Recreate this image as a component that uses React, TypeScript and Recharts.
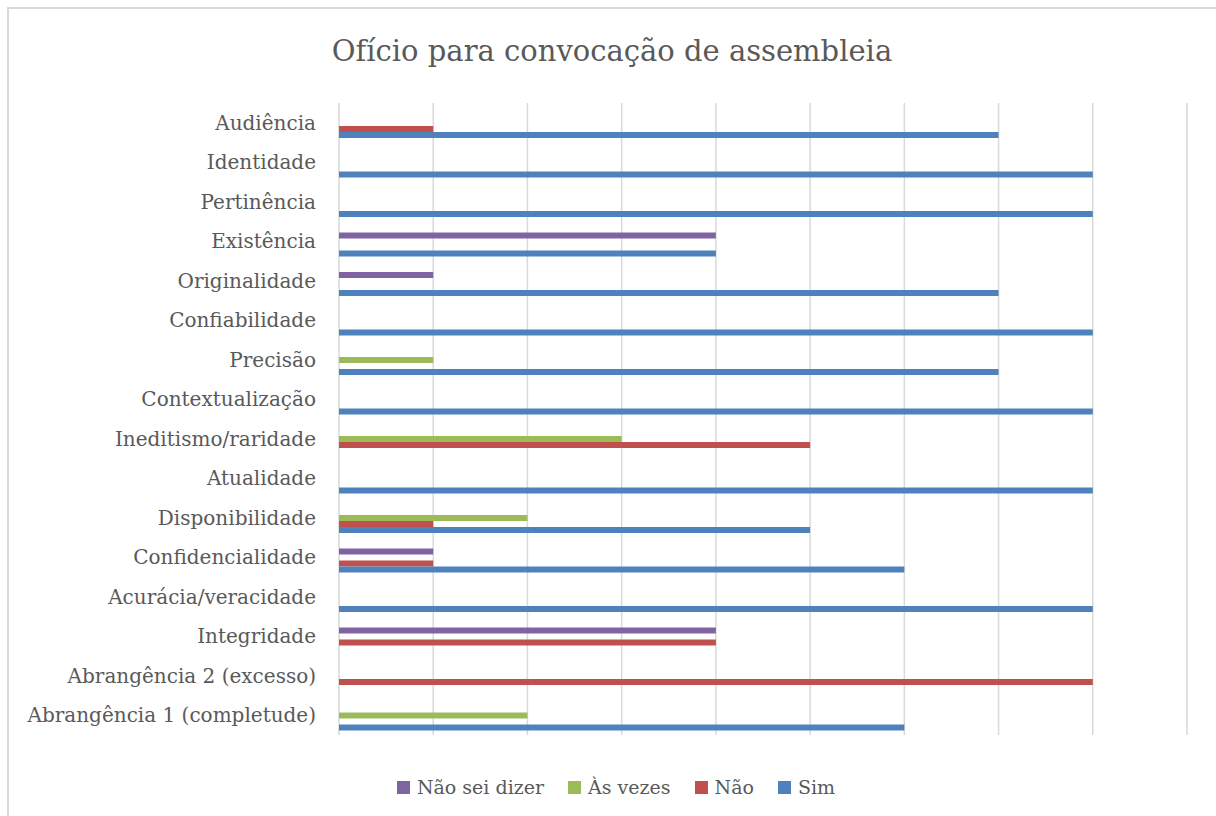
import React from "react"
import { BarChart, Bar, XAxis, YAxis, CartesianGrid } from "recharts"

const categories = [
  "Audiência",
  "Identidade",
  "Pertinência",
  "Existência",
  "Originalidade",
  "Confiabilidade",
  "Precisão",
  "Contextualização",
  "Ineditismo/raridade",
  "Atualidade",
  "Disponibilidade",
  "Confidencialidade",
  "Acurácia/veracidade",
  "Integridade",
  "Abrangência 2 (excesso)",
  "Abrangência 1 (completude)",
]

const naoSeiDizer = [0, 0, 0, 4, 1, 0, 0, 0, 0, 0, 0, 1, 0, 4, 0, 0]
const asVezes = [0, 0, 0, 0, 0, 0, 1, 0, 3, 0, 2, 0, 0, 0, 0, 2]
const nao = [1, 0, 0, 0, 0, 0, 0, 0, 5, 0, 1, 1, 0, 4, 8, 0]
const sim = [7, 8, 8, 4, 7, 8, 7, 8, 0, 8, 5, 6, 8, 0, 0, 6]

const xTicks = [0, 1, 2, 3, 4, 5, 6, 7, 8, 9]

const SERIES = [
  { key: "naoSeiDizer", name: "Não sei dizer", color: "#8064a2" },
  { key: "asVezes", name: "Às vezes", color: "#9bbb59" },
  { key: "nao", name: "Não", color: "#c0504d" },
  { key: "sim", name: "Sim", color: "#4f81bd" },
]

const data = categories.map((name, i) => ({
  name,
  naoSeiDizer: naoSeiDizer[i],
  asVezes: asVezes[i],
  nao: nao[i],
  sim: sim[i],
}))

const FONT = "'DejaVu Serif', serif"
const TEXT = "#595959"

// excel draws the bar group a bit below the band centre
const ShiftedBar = (props: any) => {
  const { x, y, width, height, fill } = props
  if (!width || width <= 0) return null
  return <rect x={x} y={y + 3} width={width} height={height} fill={fill} />
}

export default function App() {
  return (
    <div style={{ position: "absolute", left: 0, top: 0, width: 1216, height: 816, background: "#fff", overflow: "hidden" }}>
      <div
        style={{
          position: "absolute",
          left: 7,
          top: 7,
          width: 1220,
          height: 820,
          border: "2px solid #d9d9d9",
          boxSizing: "border-box",
        }}
      />
      <div
        style={{
          position: "absolute",
          top: 34,
          left: 0,
          width: 1224,
          textAlign: "center",
          fontFamily: FONT,
          fontSize: 29,
          color: TEXT,
        }}
      >
        Ofício para convocação de assembleia
      </div>
      <div style={{ position: "absolute", left: 0, top: 0 }}>
        <BarChart
          width={1216}
          height={816}
          data={data}
          layout="vertical"
          margin={{ top: 103, right: 29, bottom: 81, left: 19 }}
          barSize={6}
          barGap={0}
        >
          <CartesianGrid horizontal={false} stroke="#d9d9d9" strokeWidth={1.5} />
          <XAxis type="number" domain={[0, 9]} ticks={xTicks} hide />
          <YAxis
            type="category"
            dataKey="name"
            width={320}
            axisLine={false}
            tickLine={false}
            tickSize={0}
            tickMargin={23}
            interval={0}
            tick={{ fill: TEXT, fontSize: 20, fontFamily: FONT }}
          />
          {SERIES.map((s) => (
            <Bar key={s.key} dataKey={s.key} name={s.name} fill={s.color} shape={ShiftedBar} isAnimationActive={false} />
          ))}
        </BarChart>
      </div>
      {/* legend */}
      <div
        style={{
          position: "absolute",
          top: 776,
          left: 0,
          width: 1232,
          display: "flex",
          justifyContent: "center",
          gap: 24,
          fontFamily: FONT,
          fontSize: 19,
          color: TEXT,
        }}
      >
        {SERIES.map((s) => (
          <div key={s.key} style={{ display: "flex", alignItems: "center" }}>
            <div style={{ width: 13, height: 13, backgroundColor: s.color, marginRight: 7 }} />
            <span>{s.name}</span>
          </div>
        ))}
      </div>
    </div>
  )
}
